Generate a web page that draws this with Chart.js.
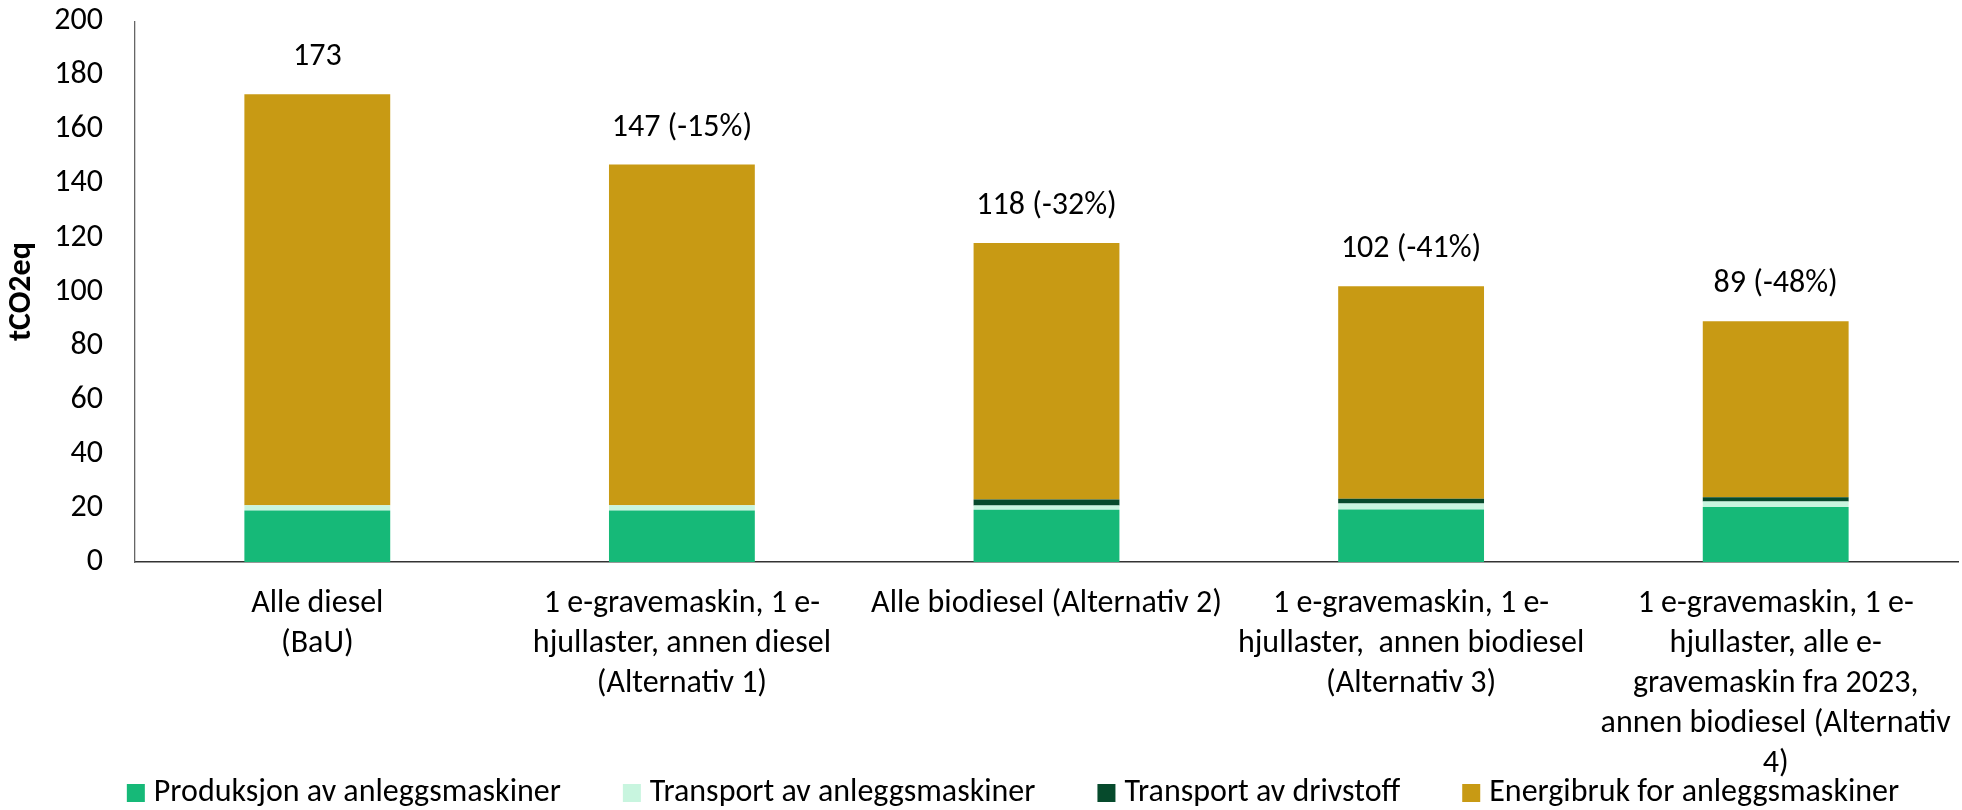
<!DOCTYPE html>
<html>
<head>
<meta charset="utf-8">
<script src="https://cdn.jsdelivr.net/npm/chart.js@4.4.1/dist/chart.umd.min.js"></script>
<style>
  html, body { margin: 0; padding: 0; background: #ffffff; }
  #wrap { width: 1962px; height: 810px; }
</style>
</head>
<body>
<div id="wrap"><canvas id="chart" width="1962" height="810"></canvas></div>
<script>
// Scenario categories (multi-line axis labels)
const categories = [
  ["Alle diesel", "(BaU)"],
  ["1 e-gravemaskin, 1 e-", "hjullaster, annen diesel", "(Alternativ 1)"],
  ["Alle biodiesel (Alternativ 2)"],
  ["1 e-gravemaskin, 1 e-", "hjullaster,  annen biodiesel", "(Alternativ 3)"],
  ["1 e-gravemaskin, 1 e-", "hjullaster, alle e-", "gravemaskin fra 2023,", "annen biodiesel (Alternativ", "4)"]
];

// Emissions per source, tCO2eq
const produksjon  = [19.0, 19.0, 19.3, 19.4, 20.3];
const transportMaskiner = [2.0, 2.0, 1.6, 2.2, 2.1];
const transportDrivstoff = [0.0, 0.0, 2.2, 1.8, 1.5];
const energibruk  = [152.0, 126.0, 94.9, 78.6, 65.1];

// Totals shown above each stack
const totalLabels = ["173", "147 (-15%)", "118 (-32%)", "102 (-41%)", "89 (-48%)"];

const yTicks = [0, 20, 40, 60, 80, 100, 120, 140, 160, 180, 200];

const FONT = "Carlito, Lato, 'Liberation Sans', sans-serif";
const FS = 32;

const seriesNames = [
  "Produksjon av anleggsmaskiner",
  "Transport av anleggsmaskiner",
  "Transport av drivstoff",
  "Energibruk for anleggsmaskiner"
];
const seriesColors = ["#16B978", "#C8F5DF", "#064A2C", "#C89A14"];
const seriesData = [produksjon, transportMaskiner, transportDrivstoff, energibruk];

// Total labels above each stacked bar
const totalsPlugin = {
  id: "totals",
  afterDatasetsDraw(chart) {
    const { ctx, scales: { x, y } } = chart;
    ctx.save();
    ctx.font = FS + "px " + FONT;
    ctx.fillStyle = "#000000";
    ctx.textAlign = "center";
    ctx.textBaseline = "middle";
    categories.forEach((c, i) => {
      const total = seriesData.reduce((s, arr) => s + arr[i], 0);
      ctx.fillText(totalLabels[i], x.getPixelForValue(i), y.getPixelForValue(total) - 37);
    });
    ctx.restore();
  }
};

// Single-row legend along the bottom edge
const legendPlugin = {
  id: "bottomLegend",
  afterDraw(chart) {
    const { ctx } = chart;
    const box = 18, gapText = 9, gapItem = 62;
    ctx.save();
    ctx.font = FS + "px " + FONT;
    const widths = seriesNames.map(n => box + gapText + ctx.measureText(n).width);
    const total = widths.reduce((a, b) => a + b, 0) + gapItem * (widths.length - 1);
    let xPos = 1013 - total / 2;
    const yc = chart.height - 17;
    ctx.textBaseline = "middle";
    ctx.textAlign = "left";
    seriesNames.forEach((n, i) => {
      ctx.fillStyle = seriesColors[i];
      ctx.fillRect(xPos, yc - box / 2, box, box);
      ctx.fillStyle = "#000000";
      ctx.fillText(n, xPos + box + gapText, yc);
      xPos += widths[i] + gapItem;
    });
    ctx.restore();
  }
};

new Chart(document.getElementById("chart"), {
  type: "bar",
  data: {
    labels: categories,
    datasets: seriesNames.map((name, i) => ({
      label: name,
      data: seriesData[i],
      backgroundColor: seriesColors[i],
      borderWidth: 0,
      barPercentage: 0.4,
      categoryPercentage: 1.0
    }))
  },
  options: {
    responsive: false,
    animation: false,
    layout: { padding: { top: 21, right: 4, bottom: 26, left: 0 } },
    plugins: {
      legend: { display: false },
      tooltip: { enabled: false }
    },
    scales: {
      x: {
        stacked: true,
        grid: { display: false, drawTicks: true, tickLength: 22 },
        border: { display: true, color: "#333333", width: 1.5 },
        ticks: {
          autoSkip: false,
          maxRotation: 0,
          minRotation: 0,
          padding: 0,
          color: "#000000",
          font: { family: FONT, size: FS, lineHeight: 1.25 }
        }
      },
      y: {
        stacked: true,
        min: 0,
        max: 200,
        afterFit(scale) { scale.width = 135; },
        afterBuildTicks(scale) { scale.ticks = yTicks.map(v => ({ value: v })); },
        grid: { display: false, drawTicks: true, tickLength: 30 },
        border: { display: true, color: "#666666", width: 1.3 },
        ticks: {
          padding: 2,
          color: "#000000",
          font: { family: FONT, size: FS }
        },
        title: {
          display: true,
          text: "tCO2eq",
          color: "#000000",
          padding: { top: 3, bottom: 0 },
          font: { family: FONT, size: FS, weight: "bold" }
        }
      }
    }
  },
  plugins: [totalsPlugin, legendPlugin]
});
</script>
</body>
</html>
